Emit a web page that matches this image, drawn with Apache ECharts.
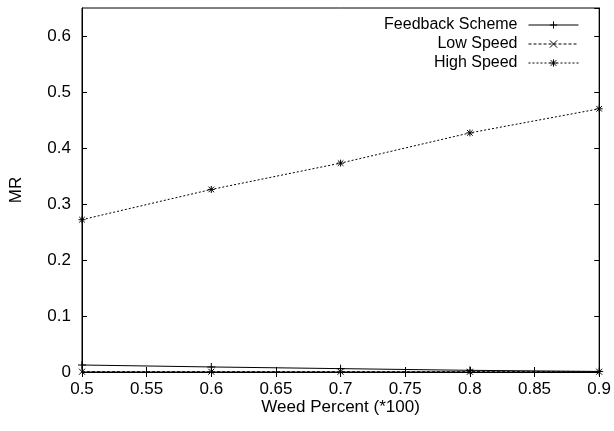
<!DOCTYPE html>
<html>
<head>
<meta charset="utf-8">
<script src="https://cdn.jsdelivr.net/npm/echarts@6/dist/echarts.min.js"></script>
<style>
  html, body { margin: 0; padding: 0; background: #fff; }
  #chart { width: 614px; height: 431px; }
</style>
</head>
<body>
<div id="chart"></div>
<script>
// Weed percentage (x) and misclassification rate (MR) per control scheme
const weedPercent = [0.5, 0.6, 0.7, 0.8, 0.9];
const feedbackScheme = [0.0125, 0.009, 0.006, 0.003, 0.001];
const lowSpeed = [0.0005, 0.0005, 0.0005, 0.0005, 0.0005];
const highSpeed = [0.272, 0.326, 0.373, 0.427, 0.470];

const seriesNames = ['Feedback Scheme', 'Low Speed', 'High Speed'];

const FONT = 'Liberation Sans, Arial, Helvetica, sans-serif';

// Marker glyphs drawn as stroked paths
const PLUS = 'path://M0,-1L0,1M-1,0L1,0';
const CROSS = 'path://M-1,-1L1,1M-1,1L1,-1';
const STAR = 'path://M0,-1L0,1M-1,0L1,0M-0.8,-0.8L0.8,0.8M-0.8,0.8L0.8,-0.8';

function pairs(xs, ys) {
  return xs.map((x, i) => [x, ys[i]]);
}

function lineSeries(name, values, dash, symbol, size) {
  return {
    name: name,
    type: 'line',
    xAxisIndex: 0,
    yAxisIndex: 0,
    data: pairs(weedPercent, values),
    symbol: symbol,
    symbolSize: size,
    showAllSymbol: true,
    lineStyle: { color: '#000', width: 1, type: dash },
    itemStyle: { color: 'rgba(0,0,0,0)', borderColor: '#000', borderWidth: 1 },
    emphasis: { disabled: true },
    animation: false
  };
}

const tickStyle = { show: true, inside: true, length: 5, lineStyle: { color: '#000', width: 1 } };
const axisLineStyle = { show: true, lineStyle: { color: '#000', width: 1 } };

const chart = echarts.init(document.getElementById('chart'), null, { renderer: 'canvas' });

chart.setOption({
  animation: false,
  backgroundColor: '#fff',
  textStyle: { fontFamily: FONT, color: '#000' },
  grid: {
    left: 82, right: 14, top: 8, bottom: 59,
    show: true, borderColor: '#000', borderWidth: 1, backgroundColor: 'transparent'
  },
  legend: {
    data: seriesNames,
    orient: 'vertical',
    right: 35,
    top: 17,
    padding: 0,
    align: 'right',
    itemWidth: 50,
    itemHeight: 9,
    itemGap: 3,
    lineStyle: { width: 1 },
    itemStyle: { borderWidth: 1 },
    textStyle: {
      fontFamily: FONT, fontSize: 16, color: '#000',
      width: 150, align: 'right', padding: [0, 6, 0, 0]
    },
    selectedMode: false
  },
  xAxis: [
    {
      type: 'value',
      min: 0.5, max: 0.9, interval: 0.05,
      position: 'bottom',
      name: 'Weed Percent (*100)',
      nameLocation: 'middle',
      nameGap: 27,
      nameMoveOverlap: false,
      nameTextStyle: { fontFamily: FONT, fontSize: 17, color: '#000' },
      axisLine: axisLineStyle,
      axisTick: tickStyle,
      axisLabel: { fontFamily: FONT, fontSize: 17, color: '#000', margin: 9 },
      splitLine: { show: false }
    },
    {
      type: 'value',
      min: 0.5, max: 0.9, interval: 0.05,
      position: 'top',
      axisLine: axisLineStyle,
      axisTick: tickStyle,
      axisLabel: { show: false },
      splitLine: { show: false }
    }
  ],
  yAxis: [
    {
      type: 'value',
      min: 0, max: 0.65, interval: 0.1,
      position: 'left',
      name: 'MR',
      nameLocation: 'middle',
      nameGap: 57,
      nameRotate: 90,
      nameMoveOverlap: false,
      nameTextStyle: { fontFamily: FONT, fontSize: 17, color: '#000' },
      axisLine: axisLineStyle,
      axisTick: tickStyle,
      axisLabel: { fontFamily: FONT, fontSize: 17, color: '#000', margin: 11, showMaxLabel: false },
      splitLine: { show: false }
    },
    {
      type: 'value',
      min: 0, max: 0.65, interval: 0.1,
      position: 'right',
      axisLine: axisLineStyle,
      axisTick: tickStyle,
      axisLabel: { show: false },
      splitLine: { show: false }
    }
  ],
  series: [
    lineSeries(seriesNames[0], feedbackScheme, 'solid', PLUS, 8),
    lineSeries(seriesNames[1], lowSpeed, [3, 2], CROSS, 6),
    lineSeries(seriesNames[2], highSpeed, [2, 2], STAR, 7)
  ]
});
</script>
</body>
</html>
